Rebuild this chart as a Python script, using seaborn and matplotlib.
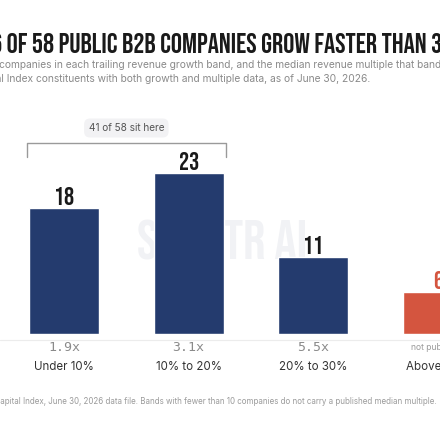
import numpy as np
import matplotlib.pyplot as plt
import seaborn as sns
from matplotlib import font_manager as fm
from matplotlib.lines import Line2D
from matplotlib.transforms import blended_transform_factory

bands = ['Under 10%', '10% to 20%', '20% to 30%', 'Above 30%']
counts = [18, 23, 11, 6]
multiples = ['1.9x', '3.1x', '5.5x', 'not published']
bar_colors = ['#243b6e', '#243b6e', '#243b6e', '#d4553f']

sns.set_theme(style='white')
plt.rcParams['font.family'] = ['Inter', 'DejaVu Sans']

# look for a condensed face for the headline numbers
ttf = fm.fontManager.ttflist
COND = dict(family=['DejaVu Sans'], fontweight='bold')
for name in ['Bebas Neue', 'Oswald', 'Liberation Sans Narrow', 'Roboto Condensed',
             'Open Sans Condensed', 'Noto Sans Condensed', 'DejaVu Sans Condensed']:
    if any(f.name == name for f in ttf):
        COND = dict(family=[name, 'DejaVu Sans'], fontweight='bold')
        break
else:
    if any(f.name == 'DejaVu Sans' and 'condensed' in str(f.stretch) for f in ttf):
        COND = dict(family=['DejaVu Sans'], fontweight='bold', fontstretch='condensed')

W = H = 440
fig = plt.figure(figsize=(4.4, 4.4), dpi=100)
fig.patch.set_facecolor('white')
R = fig.canvas.get_renderer()


def fx(px):
    return px / W


def fy(py):
    return 1 - py / H


def fit(text, target_w, size, **kw):
    t = fig.text(0, 0, text, fontsize=size, **kw)
    w = t.get_window_extent(R).width
    t.remove()
    return size * target_w / w


# bar area: baseline at 334px, 7px per company
base_px, top_px, ppu = 334, 90, 7.0
step, first = 124.67, 64
ax = fig.add_axes([0, fy(base_px), 1, (base_px - top_px) / H])
sns.barplot(x=bands, y=counts, hue=bands, palette=bar_colors, width=0.56,
            saturation=1, legend=False, ax=ax, zorder=3)
ax.set_xlim(-first / step, (W - first) / step)
ax.set_ylim(0, (base_px - top_px) / ppu)
ax.axis('off')

# watermark
ax.text((222 - first) / step, (base_px - 240) / ppu, 'SAASTR AI', ha='center', va='center',
        fontsize=min(40, fit('SAASTR AI', 195, 30, **COND)), color='#f1f2f5', zorder=1, **COND)

# count labels
for i, v in enumerate(counts):
    c = '#d4553f' if i == 3 else '#1a1a1a'
    ax.text(i, v + 0.45, str(v), ha='center', va='baseline', fontsize=18,
            color=c, zorder=4, **COND)

# bracket over the first two bands
y_hi = (base_px - 143) / ppu
y_lo = (base_px - 157) / ppu
x0, x1 = (27 - first) / step, (226 - first) / step
ax.plot([x0, x0, x1, x1], [y_lo, y_hi, y_hi, y_lo], color='#9a9a9a', lw=1, clip_on=False)
ax.text(0.5, (base_px - 128) / ppu, '41 of 58 sit here', ha='center', va='center',
        fontsize=7.2, color='#555555',
        bbox=dict(boxstyle='round,pad=0.45,rounding_size=0.6', fc='#f2f2f4', ec='none'))

# base rule
fig.add_artist(Line2D([0, 1], [fy(340), fy(340)], color='#ececec', lw=0.8))

# multiples and band names
tr = blended_transform_factory(ax.transData, fig.transFigure)
for i, (b, m) in enumerate(zip(bands, multiples)):
    if m.endswith('x'):
        ax.text(i, fy(347), m, transform=tr, ha='center', va='center', fontsize=9.5,
                family=['DejaVu Sans Mono'], color='#8a8a8a')
    else:
        ax.text(i, fy(347), m, transform=tr, ha='center', va='center', fontsize=6.2,
                color='#9a9a9a')
    ax.text(i, fy(367), b, transform=tr, ha='center', va='center', fontsize=8.3,
            color='#333333')


def cut_text(y_px, prefix, rest, vis_x, **kw):
    full = fig.text(0, fy(y_px), prefix + rest, va='center', ha='left', **kw)
    part = fig.text(0, fy(y_px), rest, va='center', ha='left', **kw)
    shift = full.get_window_extent(R).width - part.get_window_extent(R).width
    part.remove()
    full.set_x(fx(vis_x - shift))
    return full


title_size = fit('OF 58 PUBLIC B2B COMPANIES GROW FASTER THAN 3', 436, 20, **COND)
cut_text(43, '6 ', 'OF 58 PUBLIC B2B COMPANIES GROW FASTER THAN 30%', 7,
         fontsize=title_size, color='#1a1a1a', **COND)
cut_text(65, 'Number of ', 'companies in each trailing revenue growth band, and the median '
         'revenue multiple that band commands.', -1, fontsize=7.35, color='#8a8a8a')
cut_text(79, 'SaaStr Capita', 'l Index constituents with both growth and multiple data, '
         'as of June 30, 2026.', 1, fontsize=7.35, color='#8a8a8a')
cut_text(401, 'Source: SaaStr C', 'apital Index, June 30, 2026 data file. Bands with fewer '
         'than 10 companies do not carry a published median multiple.', 0,
         fontsize=5.75, color='#9a9a9a')

fig.savefig('out.png', dpi=100, facecolor='white')
